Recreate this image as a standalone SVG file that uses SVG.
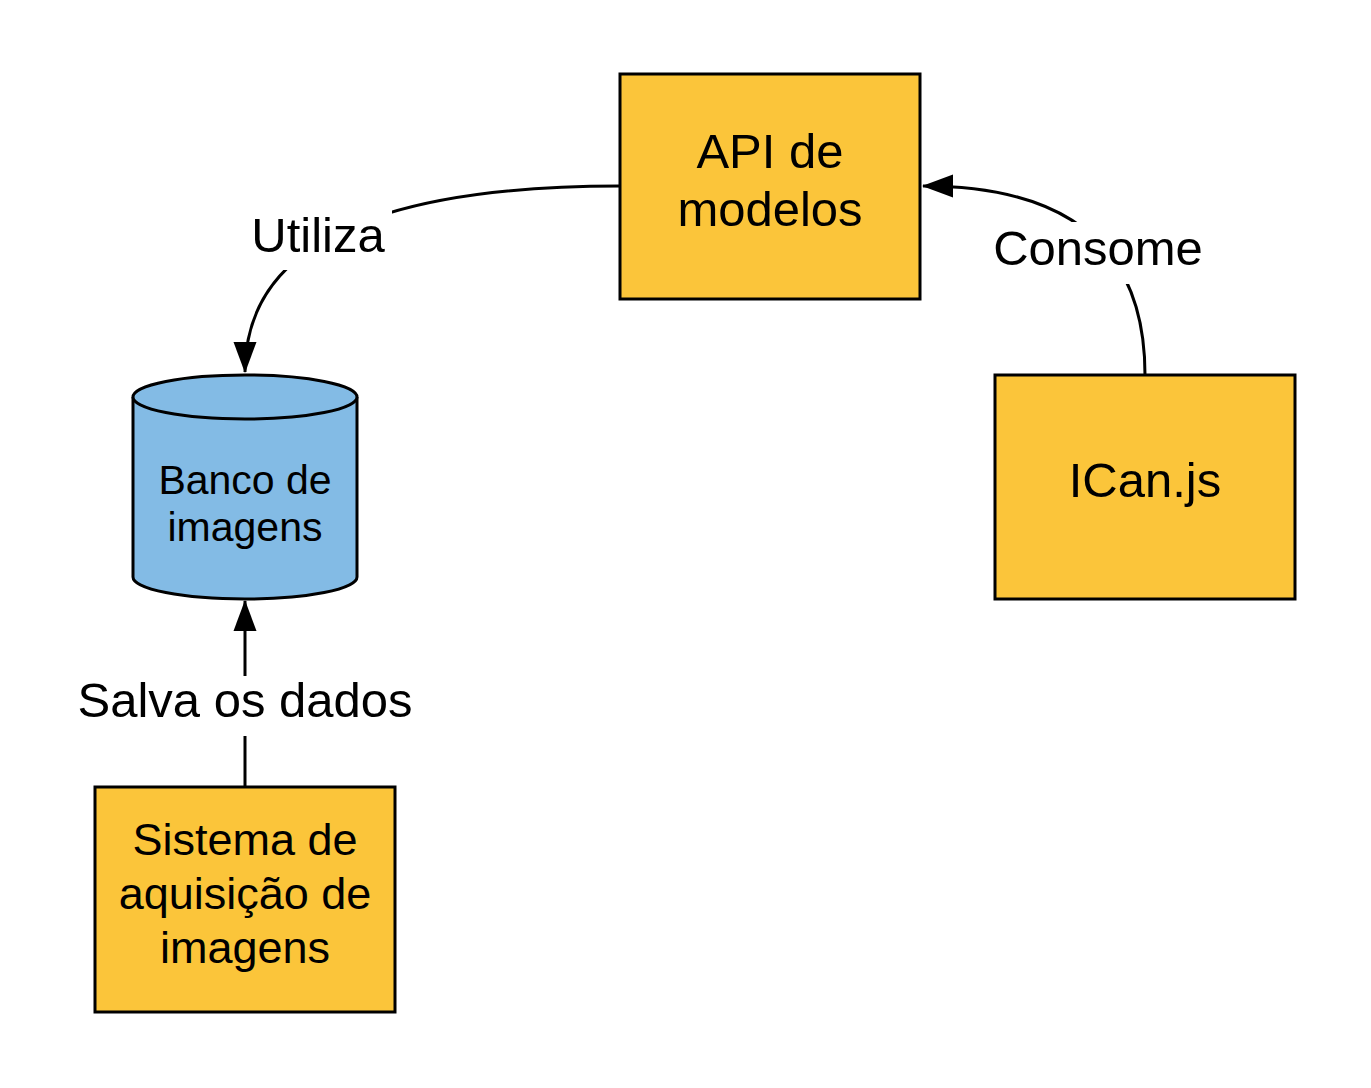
<svg xmlns="http://www.w3.org/2000/svg" width="1371" height="1088" viewBox="0 0 1371 1088">
<style>
.box{fill:#FBC53A;stroke:#000;stroke-width:3}
.db{fill:#83BBE5;stroke:#000;stroke-width:3}
.t{font-family:"Liberation Sans",Arial,sans-serif;fill:#000;text-anchor:middle}
.edge{fill:none;stroke:#000;stroke-width:3}
.lbl{fill:#fff;stroke:none}
</style>
<defs>
<marker id="arr" markerUnits="userSpaceOnUse" markerWidth="32" markerHeight="24" viewBox="0 0 32 24" refX="30" refY="12" orient="auto">
<path d="M0,0.5 L31,12 L0,23.5 Z" fill="#000"/>
</marker>
</defs>
<rect width="1371" height="1088" fill="#fff"/>
<g id="connectors">
<path class="edge" d="M620,186 Q245,186 245,372" marker-end="url(#arr)"/>
<path class="edge" d="M1145,375 Q1145,186 923,186" marker-end="url(#arr)"/>
<path class="edge" d="M245,787 L245,601" marker-end="url(#arr)"/>
<rect class="lbl" x="244" y="210" width="148" height="60"/>
<text class="t" x="318" y="252" font-size="49">Utiliza</text>
<rect class="lbl" x="986" y="222" width="224" height="62"/>
<text class="t" x="1098" y="265" font-size="49">Consome</text>
<rect class="lbl" x="70" y="676" width="351" height="60"/>
<text class="t" x="245" y="717" font-size="49">Salva os dados</text>
</g>
<g id="api">
<rect class="box" x="620" y="74" width="300" height="225"/>
<text class="t" x="770" y="168" font-size="49">API de</text>
<text class="t" x="770" y="226" font-size="49">modelos</text>
</g>
<g id="ican">
<rect class="box" x="995" y="375" width="300" height="224"/>
<text class="t" x="1145" y="497" font-size="49">ICan.js</text>
</g>
<g id="banco">
<path class="db" d="M133,397 A112,22 0 0 1 357,397 L357,577 A112,22 0 0 1 133,577 Z"/>
<path class="db" d="M133,397 A112,22 0 0 0 357,397" fill="none"/>
<text class="t" x="245" y="494" font-size="41">Banco de</text>
<text class="t" x="245" y="541" font-size="41">imagens</text>
</g>
<g id="sistema">
<rect class="box" x="95" y="787" width="300" height="225"/>
<text class="t" x="245" y="855" font-size="45">Sistema de</text>
<text class="t" x="245" y="909" font-size="45">aquisição de</text>
<text class="t" x="245" y="963" font-size="45">imagens</text>
</g>
</svg>
